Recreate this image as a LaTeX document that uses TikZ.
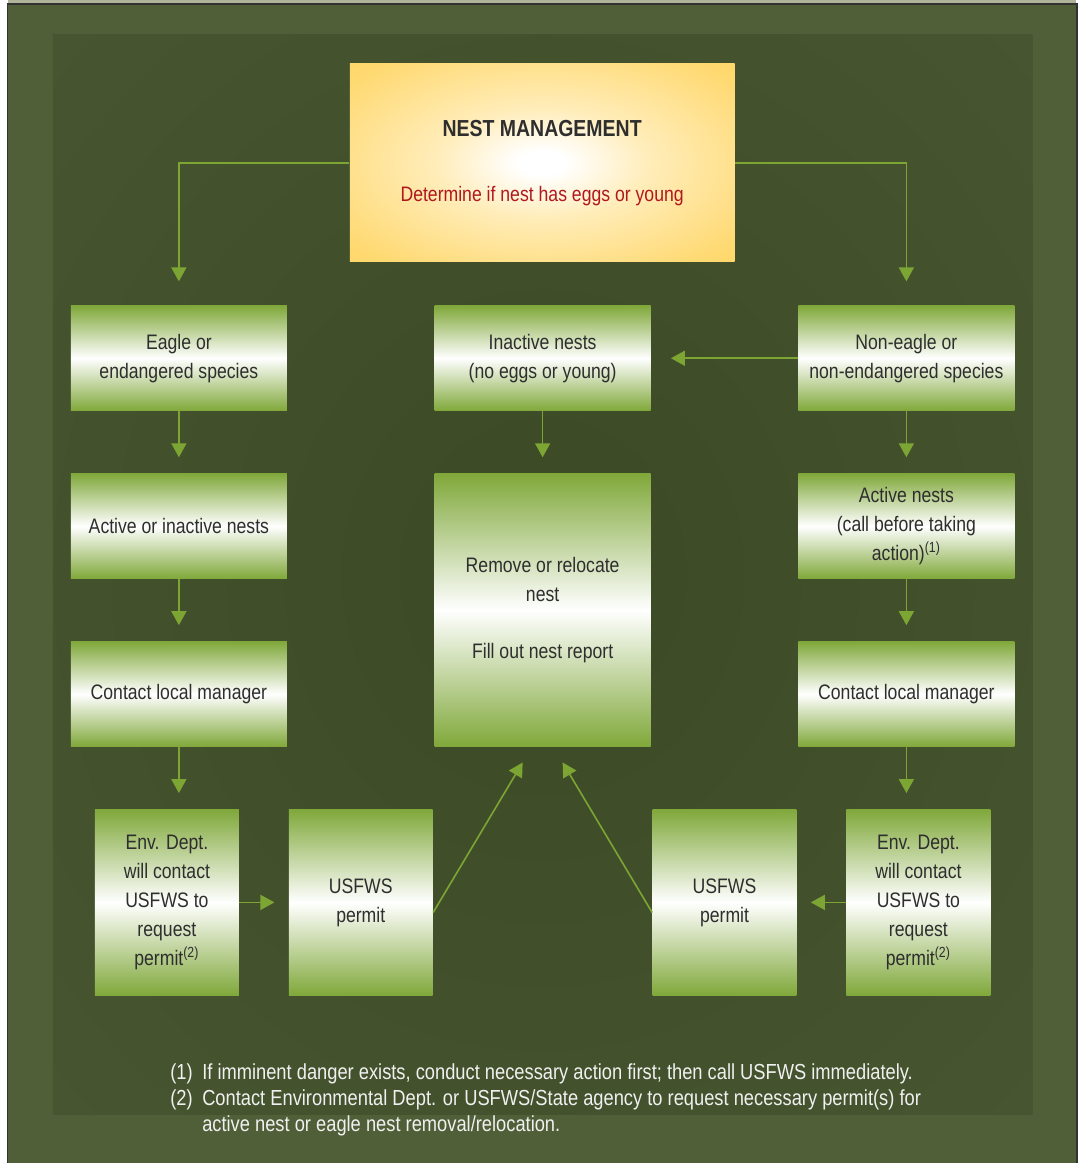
\documentclass[tikz,border=0pt]{standalone}
\usepackage{fontspec}
\setmainfont[FakeStretch=0.84]{Liberation Sans}
\usetikzlibrary{arrows.meta}

\definecolor{boxgreen}{HTML}{80A83A}
\definecolor{linegreen}{HTML}{7DA534}
\definecolor{bggreen}{HTML}{505F38}
\definecolor{paneldark}{HTML}{3B4A25}
\definecolor{panelrim}{HTML}{4C5B35}
\definecolor{framegray}{HTML}{AEB39A}
\definecolor{nestyellow}{HTML}{FFD04E}
\definecolor{titlered}{HTML}{B0181E}
\definecolor{textgray}{HTML}{2E2E2E}

\pgfdeclareradialshading{nestglow}{\pgfpoint{0bp}{0bp}}{color(0bp)=(white); color(3bp)=(white); color(14bp)=(nestyellow!40!white); color(32bp)=(nestyellow!80!white); color(50bp)=(nestyellow)}
\pgfdeclareradialshading{panelglow}{\pgfpoint{0bp}{0bp}}{color(0bp)=(paneldark); color(50bp)=(panelrim)}

\tikzset{
  box/.style={top color=boxgreen, bottom color=boxgreen, middle color=white,
    text=textgray, align=center, inner sep=0pt,
    font=\fontsize{10.5}{14.5}\selectfont},
  colbox/.style={box, minimum width=108pt, minimum height=52.5pt},
  smallbox/.style={box, minimum width=72pt, minimum height=93pt},
  link/.style={draw=linegreen, line width=0.8pt, -{Triangle[length=7pt,width=7.5pt]}}
}

\begin{document}
\begin{tikzpicture}[x=0.5pt,y=-0.5pt]
	% frame and background
	\fill[white] (0,0) rectangle (1079,1164);
	\fill[bggreen] (8,4) rectangle (1077,1164);
	\fill[framegray] (8,0) rectangle (1077,3.5);
	\draw[black!80, line width=0.8pt] (7.5,1164) -- (7.5,4) -- (1077.5,4) -- (1077.5,1164);
	\shade[shading=panelglow] (53,35) rectangle (1033,1115);

	% boxes
	\node (top) [shading=nestglow, minimum width=192.5pt, minimum height=99pt, align=center,
		inner sep=0pt, font=\fontsize{10.5}{14.5}\selectfont] at (542.5,163)
		{{\fontsize{11.6}{14}\selectfont\bfseries\color{textgray}NEST MANAGEMENT}\\[18pt]
		{\color{titlered}Determine if nest has eggs or young}};

	\begin{scope}[every node/.style={colbox}]
	\node (eagle) at (179,358.5) {Eagle or\\endangered species};
	\node (inactive) at (543,358.5) {Inactive nests\\(no eggs or young)};
	\node (noneagle) at (907,358.5) {Non-eagle or\\non-endangered species};
	\node (activeL) at (179,526.5) {Active or inactive nests};
	\node (activeR) at (907,526.5) {Active nests\\(call before taking\\action)\textsuperscript{(1)}};
	\node (contactL) at (179,694.5) {Contact local manager};
	\node (contactR) at (907,694.5) {Contact local manager};
	\node (remove) [minimum height=136.5pt] at (543,610.5) {Remove or relocate\\nest\\ \\Fill out nest report};
	\end{scope}

	\begin{scope}[every node/.style={smallbox}]
	\node (envL) at (167,903) {Env. Dept.\\will contact\\USFWS to\\request\\permit\textsuperscript{(2)}};
	\node (usfwsL) at (361,903) {USFWS\\permit};
	\node (usfwsR) at (725,903) {USFWS\\permit};
	\node (envR) at (919,903) {Env. Dept.\\will contact\\USFWS to\\request\\permit\textsuperscript{(2)}};
	\end{scope}

	\coordinate (tipL) at (523,763);
	\coordinate (tipR) at (563,763);

	% arrows
	\draw[link, shorten >=12pt] (top.west) -| (eagle.north);
	\draw[link, shorten >=12pt] (top.east) -| (noneagle.north);
	\draw[link, shorten >=10pt] (noneagle.west) -- (inactive.east);
	\draw[link, shorten >=8pt] (eagle) -- (activeL);
	\draw[link, shorten >=8pt] (activeL) -- (contactL);
	\draw[link, shorten >=8pt] (contactL.south) -- (contactL.south |- envL.north);
	\draw[link, shorten >=8pt] (inactive) -- (remove);
	\draw[link, shorten >=8pt] (noneagle) -- (activeR);
	\draw[link, shorten >=8pt] (activeR) -- (contactR);
	\draw[link, shorten >=8pt] (contactR.south) -- (contactR.south |- envR.north);
	\draw[link, shorten >=7pt] (envL) -- (usfwsL);
	\draw[link, shorten >=7pt] (envR) -- (usfwsR);
	\draw[link] (usfwsL.-8) -- (tipL);
	\draw[link] (usfwsR.188) -- (tipR);

	% notes
	\node (notes) [anchor=north west, text=white!94!black, align=left, inner sep=0pt,
		font=\fontsize{10.9}{12.9}\selectfont] at (170,1064)
		{\makebox[16pt][l]{(1)}If imminent danger exists, conduct necessary action first; then call USFWS immediately.\\
		\makebox[16pt][l]{(2)}Contact Environmental Dept. or USFWS/State agency to request necessary permit(s) for\\
		\makebox[16pt][l]{}active nest or eagle nest removal/relocation.};
\end{tikzpicture}
\end{document}
